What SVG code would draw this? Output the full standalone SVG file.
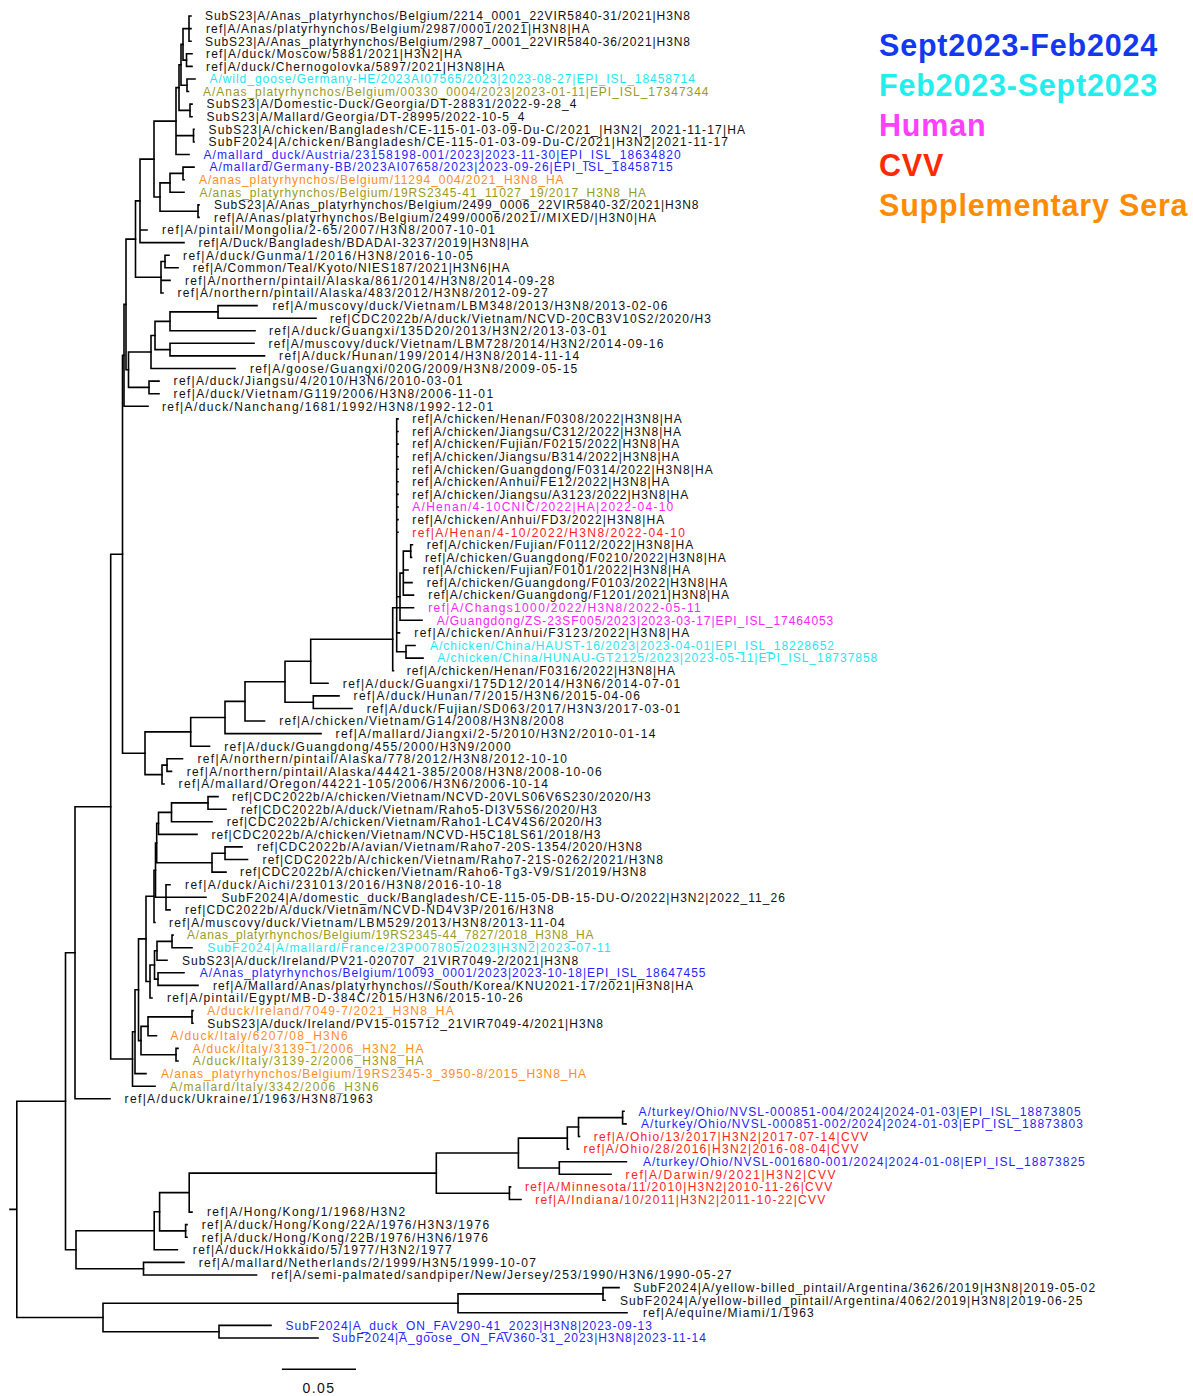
<svg xmlns="http://www.w3.org/2000/svg" width="1193" height="1396" viewBox="0 0 1193 1396">
<style>
.b{fill:none;stroke:#000;stroke-width:1.6;stroke-linecap:square}
text.l{font-family:"Liberation Sans",Arial,sans-serif;font-size:12px;fill:#111}
.blue{fill:#1f1fff !important}.cyan{fill:#1ee6f0 !important}.olive{fill:#9a9a1c !important}.orange{fill:#ff8c1e !important}.mag{fill:#ff22ff !important}.red{fill:#ff2222 !important}
.lg{font-family:"Liberation Sans",Arial,sans-serif;font-weight:bold;font-size:30.5px;letter-spacing:0.8px}
.sc{font-family:"Liberation Sans",Arial,sans-serif;font-size:14px;letter-spacing:1.5px;fill:#111}
</style>
<rect width="1193" height="1396" fill="#fff"/>
<g id="connectors" class="b">
<path d="M10,1209.4 H16.8 M16.8,1101.2 V1317.5 M16.8,1101.2 H65.5 M16.8,1317.5 H103"/>
<path d="M65.5,952.7 V1249.75 M65.5,952.7 H75 M65.5,1249.75 H76"/>
<path d="M75,806.7 V1098.7 H110 M75,806.7 H110.7"/>
<path d="M110.7,554.3 V1059 H132.5 M110.7,554.3 H122.5"/>
<path d="M122.5,355.4 V753.2 H145 M122.5,355.4 H124"/>
<path d="M124,304.4 V406.3 H148 M124,304.4 H126"/>
<path d="M126,239.1 V369.7 H128.5 M126,239.1 H135.5"/>
<path d="M135.5,200.9 V277.3 H161 M135.5,200.9 H140"/>
<path d="M140,159.1 V242.6 H184 M140,159.1 H154 M140,230 H147"/>
<path d="M154,121.1 V197 H160 M154,121.1 H176"/>
<path d="M176,87.6 V154.5 H189 M176,87.6 H179 M176,135.6 H193.5"/>
<path d="M179,64.8 V110.4 H190 M179,64.8 H181"/>
<path d="M181,44.4 V85.3 H187 M181,44.4 H183"/>
<path d="M183,28.6 V60.1 H186.5 M183,28.6 H189"/>
<path d="M189,16 V41.2 H191 M189,16 H191 M189,28.6 H191"/>
<path d="M186.5,53.8 V66.4 H192 M186.5,53.8 H192"/>
<path d="M187,79 V91.5 H188.5 M187,79 H195"/>
<path d="M190,104.1 V116.7 H192 M190,104.1 H192"/>
<path d="M193.5,129.3 V141.9 H194 M193.5,129.3 H194"/>
<path d="M160,182.9 V211.2 H198 M160,182.9 H170"/>
<path d="M170,173.4 V192.3 H184 M170,173.4 H183"/>
<path d="M183,167.1 V179.7 H184 M183,167.1 H194"/>
<path d="M198,204.9 V217.4 H199 M198,204.9 H199"/>
<path d="M161,261.5 V293 H163 M161,261.5 H165 M161,280.4 H170"/>
<path d="M165,255.2 V267.8 H178 M165,255.2 H169"/>
<path d="M128.5,352 V387.4 H149 M128.5,352 H151"/>
<path d="M151,335.5 V368.5 H235 M151,335.5 H155"/>
<path d="M155,321.4 V349.6 H170 M155,321.4 H170"/>
<path d="M170,311.9 V330.8 H255 M170,311.9 H218"/>
<path d="M218,305.6 V318.2 H316 M218,305.6 H257"/>
<path d="M170,343.3 V355.9 H264.5 M170,343.3 H254"/>
<path d="M149,381.1 V393.7 H159 M149,381.1 H159"/>
<path d="M145,731.9 V774.6 H162 M145,731.9 H190.7"/>
<path d="M190.7,717.5 V746.2 H209.5 M190.7,717.5 H225"/>
<path d="M225,701.4 V733.6 H321 M225,701.4 H245"/>
<path d="M245,681.7 V721 H264.5 M245,681.7 H285"/>
<path d="M285,661.3 V702.2 H313.3 M285,661.3 H310.7"/>
<path d="M310.7,639.2 V683.3 H328 M310.7,639.2 H392.7"/>
<path d="M313.3,695.9 V708.5 H352 M313.3,695.9 H339"/>
<path d="M392.7,607.7 V670.7 H393.5 M392.7,607.7 H396.7"/>
<path d="M396.7,418.9 V651.8 H406 M396.7,418.9 H398 M396.7,431.5 H398 M396.7,444.1 H398 M396.7,456.7 H398 M396.7,469.2 H398 M396.7,481.8 H398 M396.7,494.4 H398 M396.7,507 H398 M396.7,519.6 H398 M396.7,532.2 H398 M396.7,596.7 H400 M396.7,607.7 H413.5 M396.7,632.9 H399.5"/>
<path d="M400,573.1 V620.3 H422 M400,573.1 H403.3"/>
<path d="M403.3,551.1 V595.1 H413.5 M403.3,551.1 H410.7 M403.3,570 H408 M403.3,582.6 H412"/>
<path d="M410.7,544.8 V557.4 H411.5 M410.7,544.8 H412.5"/>
<path d="M406,645.5 V658.1 H423 M406,645.5 H415"/>
<path d="M162,765.1 V784 H164 M162,765.1 H167"/>
<path d="M167,758.8 V771.4 H171.5 M167,758.8 H182.5"/>
<path d="M132.5,1031.7 V1086.2 H155 M132.5,1031.7 H135"/>
<path d="M135,989.8 V1073.6 H146 M135,989.8 H138.5"/>
<path d="M138.5,938.9 V1040.6 H141 M138.5,938.9 H146"/>
<path d="M146,896.3 V981.5 H150 M146,896.3 H154"/>
<path d="M154,870.2 V922.5 H155 M154,870.2 H155.5"/>
<path d="M155.5,843 V897.3 H166 M155.5,843 H156.7"/>
<path d="M156.7,823.4 V862.7 H212 M156.7,823.4 H158.5"/>
<path d="M158.5,812.4 V834.4 H197 M158.5,812.4 H171.5"/>
<path d="M171.5,802.9 V821.8 H212 M171.5,802.9 H208"/>
<path d="M208,796.6 V809.2 H226 M208,796.6 H218"/>
<path d="M212,853.2 V872.1 H226 M212,853.2 H225"/>
<path d="M225,846.9 V859.5 H247.5 M225,846.9 H242"/>
<path d="M166,884.7 V909.9 H170 M166,884.7 H170 M166,897.3 H206"/>
<path d="M150,965 V998 H152 M150,965 H154.5"/>
<path d="M154.5,950.8 V979.1 H158 M154.5,950.8 H157"/>
<path d="M157,941.4 V960.3 H167 M157,941.4 H172"/>
<path d="M172,935.1 V947.7 H192 M172,935.1 H173"/>
<path d="M158,972.8 V985.4 H198 M158,972.8 H184"/>
<path d="M141,1026.4 V1054.7 H176 M141,1026.4 H148"/>
<path d="M148,1016.9 V1035.8 H156.5 M148,1016.9 H192"/>
<path d="M192,1010.6 V1023.2 H193 M192,1010.6 H193"/>
<path d="M176,1048.4 V1061 H178 M176,1048.4 H178"/>
<path d="M76,1230.8 V1268.7 H143.5 M76,1230.8 H154.2"/>
<path d="M154.2,1211.75 V1249.8 H177.4 M154.2,1211.75 H159.6"/>
<path d="M159.6,1192.6 V1230.9 H185.6 M159.6,1192.6 H189.2"/>
<path d="M189.2,1173.1 V1212.1 H192 M189.2,1173.1 H436.3"/>
<path d="M185.6,1224.6 V1237.2 H187 M185.6,1224.6 H187"/>
<path d="M436.3,1153.05 V1193.2 H509.4 M436.3,1153.05 H518.4"/>
<path d="M518.4,1138.1 V1168 H559.3 M518.4,1138.1 H567.3"/>
<path d="M567.3,1127.05 V1149.1 H568.5 M567.3,1127.05 H578.5"/>
<path d="M578.5,1117.6 V1136.5 H579.5 M578.5,1117.6 H622.6"/>
<path d="M622.6,1111.3 V1123.9 H626 M622.6,1111.3 H624"/>
<path d="M559.3,1161.7 V1174.3 H611 M559.3,1161.7 H626.4"/>
<path d="M509.4,1186.9 V1199.5 H521 M509.4,1186.9 H510.5"/>
<path d="M143.5,1262.4 V1275 H256.5 M143.5,1262.4 H184"/>
<path d="M103,1303.3 V1331.7 H219 M103,1303.3 H458"/>
<path d="M458,1293.9 V1312.8 H627 M458,1293.9 H603"/>
<path d="M603,1287.6 V1300.2 H605 M603,1287.6 H619"/>
<path d="M219,1325.4 V1338 H318 M219,1325.4 H271"/>
</g>
<g id="leaf-1"><text class="l" x="205" y="20.3" textLength="485" lengthAdjust="spacing">SubS23|A/Anas_platyrhynchos/Belgium/2214_0001_22VIR5840-31/2021|H3N8</text></g>
<g id="leaf-2"><text class="l" x="206" y="32.9" textLength="383.4" lengthAdjust="spacing">ref|A/Anas/platyrhynchos/Belgium/2987/0001/2021|H3N8|HA</text></g>
<g id="leaf-3"><text class="l" x="205" y="45.5" textLength="485" lengthAdjust="spacing">SubS23|A/Anas_platyrhynchos/Belgium/2987_0001_22VIR5840-36/2021|H3N8</text></g>
<g id="leaf-4"><text class="l" x="206" y="58.1" textLength="255.8" lengthAdjust="spacing">ref|A/duck/Moscow/5881/2021|H3N2|HA</text></g>
<g id="leaf-5"><text class="l" x="206" y="70.7" textLength="298.4" lengthAdjust="spacing">ref|A/duck/Chernogolovka/5897/2021|H3N8|HA</text></g>
<g id="leaf-6"><text class="l cyan" x="209.5" y="83.3" textLength="485.4" lengthAdjust="spacing">A/wild_goose/Germany-HE/2023AI07565/2023|2023-08-27|EPI_ISL_18458714</text></g>
<g id="leaf-7"><text class="l olive" x="203" y="95.8" textLength="505.5" lengthAdjust="spacing">A/Anas_platyrhynchos/Belgium/00330_0004/2023|2023-01-11|EPI_ISL_17347344</text></g>
<g id="leaf-8"><text class="l" x="206.5" y="108.4" textLength="370" lengthAdjust="spacing">SubS23|A/Domestic-Duck/Georgia/DT-28831/2022-9-28_4</text></g>
<g id="leaf-9"><text class="l" x="206.5" y="121" textLength="318" lengthAdjust="spacing">SubS23|A/Mallard/Georgia/DT-28995/2022-10-5_4</text></g>
<g id="leaf-10"><text class="l" x="208.5" y="133.6" textLength="536.5" lengthAdjust="spacing">SubS23|A/chicken/Bangladesh/CE-115-01-03-09-Du-C/2021_|H3N2|_2021-11-17|HA</text></g>
<g id="leaf-11"><text class="l" x="208.5" y="146.2" textLength="519.5" lengthAdjust="spacing">SubF2024|A/chicken/Bangladesh/CE-115-01-03-09-Du-C/2021|H3N2|2021-11-17</text></g>
<g id="leaf-12"><text class="l blue" x="203.5" y="158.8" textLength="477.3" lengthAdjust="spacing">A/mallard_duck/Austria/23158198-001/2023|2023-11-30|EPI_ISL_18634820</text></g>
<g id="leaf-13"><text class="l blue" x="209.5" y="171.4" textLength="463.2" lengthAdjust="spacing">A/mallard/Germany-BB/2023AI07658/2023|2023-09-26|EPI_ISL_18458715</text></g>
<g id="leaf-14"><text class="l orange" x="199" y="184" textLength="364.5" lengthAdjust="spacing">A/anas_platyrhynchos/Belgium/11294_004/2021_H3N8_HA</text></g>
<g id="leaf-15"><text class="l olive" x="199.5" y="196.6" textLength="446.5" lengthAdjust="spacing">A/anas_platyrhynchos/Belgium/19RS2345-41_11027_19/2017_H3N8_HA</text></g>
<g id="leaf-16"><text class="l" x="214" y="209.2" textLength="484.5" lengthAdjust="spacing">SubS23|A/Anas_platyrhynchos/Belgium/2499_0006_22VIR5840-32/2021|H3N8</text></g>
<g id="leaf-17"><text class="l" x="214" y="221.7" textLength="442" lengthAdjust="spacing">ref|A/Anas/platyrhynchos/Belgium/2499/0006/2021//MIXED/|H3N0|HA</text></g>
<g id="leaf-18"><text class="l" x="162" y="234.3" textLength="333" lengthAdjust="spacing">ref|A/pintail/Mongolia/2-65/2007/H3N8/2007-10-01</text></g>
<g id="leaf-19"><text class="l" x="198.5" y="246.9" textLength="330" lengthAdjust="spacing">ref|A/Duck/Bangladesh/BDADAI-3237/2019|H3N8|HA</text></g>
<g id="leaf-20"><text class="l" x="183" y="259.5" textLength="290" lengthAdjust="spacing">ref|A/duck/Gunma/1/2016/H3N8/2016-10-05</text></g>
<g id="leaf-21"><text class="l" x="192.8" y="272.1" textLength="316.8" lengthAdjust="spacing">ref|A/Common/Teal/Kyoto/NIES187/2021|H3N6|HA</text></g>
<g id="leaf-22"><text class="l" x="185" y="284.7" textLength="369.4" lengthAdjust="spacing">ref|A/northern/pintail/Alaska/861/2014/H3N8/2014-09-28</text></g>
<g id="leaf-23"><text class="l" x="177.5" y="297.3" textLength="370.4" lengthAdjust="spacing">ref|A/northern/pintail/Alaska/483/2012/H3N8/2012-09-27</text></g>
<g id="leaf-24"><text class="l" x="272.4" y="309.9" textLength="395" lengthAdjust="spacing">ref|A/muscovy/duck/Vietnam/LBM348/2013/H3N8/2013-02-06</text></g>
<g id="leaf-25"><text class="l" x="330" y="322.5" textLength="381" lengthAdjust="spacing">ref|CDC2022b/A/duck/Vietnam/NCVD-20CB3V10S2/2020/H3</text></g>
<g id="leaf-26"><text class="l" x="269" y="335.1" textLength="337.8" lengthAdjust="spacing">ref|A/duck/Guangxi/135D20/2013/H3N2/2013-03-01</text></g>
<g id="leaf-27"><text class="l" x="268.6" y="347.6" textLength="394.8" lengthAdjust="spacing">ref|A/muscovy/duck/Vietnam/LBM728/2014/H3N2/2014-09-16</text></g>
<g id="leaf-28"><text class="l" x="279" y="360.2" textLength="300.2" lengthAdjust="spacing">ref|A/duck/Hunan/199/2014/H3N8/2014-11-14</text></g>
<g id="leaf-29"><text class="l" x="250" y="372.8" textLength="327.3" lengthAdjust="spacing">ref|A/goose/Guangxi/020G/2009/H3N8/2009-05-15</text></g>
<g id="leaf-30"><text class="l" x="173.6" y="385.4" textLength="288.9" lengthAdjust="spacing">ref|A/duck/Jiangsu/4/2010/H3N6/2010-03-01</text></g>
<g id="leaf-31"><text class="l" x="173.6" y="398" textLength="319.5" lengthAdjust="spacing">ref|A/duck/Vietnam/G119/2006/H3N8/2006-11-01</text></g>
<g id="leaf-32"><text class="l" x="162" y="410.6" textLength="331.1" lengthAdjust="spacing">ref|A/duck/Nanchang/1681/1992/H3N8/1992-12-01</text></g>
<g id="leaf-33"><text class="l" x="412.3" y="423.2" textLength="269.4" lengthAdjust="spacing">ref|A/chicken/Henan/F0308/2022|H3N8|HA</text></g>
<g id="leaf-34"><text class="l" x="412.3" y="435.8" textLength="268.7" lengthAdjust="spacing">ref|A/chicken/Jiangsu/C312/2022|H3N8|HA</text></g>
<g id="leaf-35"><text class="l" x="412.3" y="448.4" textLength="267" lengthAdjust="spacing">ref|A/chicken/Fujian/F0215/2022|H3N8|HA</text></g>
<g id="leaf-36"><text class="l" x="412.3" y="461" textLength="267" lengthAdjust="spacing">ref|A/chicken/Jiangsu/B314/2022|H3N8|HA</text></g>
<g id="leaf-37"><text class="l" x="412.3" y="473.5" textLength="300.4" lengthAdjust="spacing">ref|A/chicken/Guangdong/F0314/2022|H3N8|HA</text></g>
<g id="leaf-38"><text class="l" x="412.3" y="486.1" textLength="257" lengthAdjust="spacing">ref|A/chicken/Anhui/FE12/2022|H3N8|HA</text></g>
<g id="leaf-39"><text class="l" x="412.3" y="498.7" textLength="276" lengthAdjust="spacing">ref|A/chicken/Jiangsu/A3123/2022|H3N8|HA</text></g>
<g id="leaf-40"><text class="l mag" x="412.3" y="511.3" textLength="261" lengthAdjust="spacing">A/Henan/4-10CNIC/2022|HA|2022-04-10</text></g>
<g id="leaf-41"><text class="l" x="412.3" y="523.9" textLength="252" lengthAdjust="spacing">ref|A/chicken/Anhui/FD3/2022|H3N8|HA</text></g>
<g id="leaf-42"><text class="l red" x="412.3" y="536.5" textLength="272.7" lengthAdjust="spacing">ref|A/Henan/4-10/2022/H3N8/2022-04-10</text></g>
<g id="leaf-43"><text class="l" x="426.7" y="549.1" textLength="266.6" lengthAdjust="spacing">ref|A/chicken/Fujian/F0112/2022|H3N8|HA</text></g>
<g id="leaf-44"><text class="l" x="425" y="561.7" textLength="300.7" lengthAdjust="spacing">ref|A/chicken/Guangdong/F0210/2022|H3N8|HA</text></g>
<g id="leaf-45"><text class="l" x="422.7" y="574.3" textLength="267.3" lengthAdjust="spacing">ref|A/chicken/Fujian/F0101/2022|H3N8|HA</text></g>
<g id="leaf-46"><text class="l" x="426.7" y="586.9" textLength="300.6" lengthAdjust="spacing">ref|A/chicken/Guangdong/F0103/2022|H3N8|HA</text></g>
<g id="leaf-47"><text class="l" x="428.3" y="599.4" textLength="300.7" lengthAdjust="spacing">ref|A/chicken/Guangdong/F1201/2021|H3N8|HA</text></g>
<g id="leaf-48"><text class="l mag" x="428.3" y="612" textLength="272.4" lengthAdjust="spacing">ref|A/Changs1000/2022/H3N8/2022-05-11</text></g>
<g id="leaf-49"><text class="l mag" x="436.7" y="624.6" textLength="396.6" lengthAdjust="spacing">A/Guangdong/ZS-23SF005/2023|2023-03-17|EPI_ISL_17464053</text></g>
<g id="leaf-50"><text class="l" x="414.3" y="637.2" textLength="275" lengthAdjust="spacing">ref|A/chicken/Anhui/F3123/2022|H3N8|HA</text></g>
<g id="leaf-51"><text class="l cyan" x="430" y="649.8" textLength="404" lengthAdjust="spacing">A/chicken/China/HAUST-16/2023|2023-04-01|EPI_ISL_18228652</text></g>
<g id="leaf-52"><text class="l cyan" x="437.3" y="662.4" textLength="440" lengthAdjust="spacing">A/chicken/China/HUNAU-GT2125/2023|2023-05-11|EPI_ISL_18737858</text></g>
<g id="leaf-53"><text class="l" x="406.7" y="675" textLength="268.3" lengthAdjust="spacing">ref|A/chicken/Henan/F0316/2022|H3N8|HA</text></g>
<g id="leaf-54"><text class="l" x="342.8" y="687.6" textLength="337.4" lengthAdjust="spacing">ref|A/duck/Guangxi/175D12/2014/H3N6/2014-07-01</text></g>
<g id="leaf-55"><text class="l" x="353.5" y="700.2" textLength="286.5" lengthAdjust="spacing">ref|A/duck/Hunan/7/2015/H3N6/2015-04-06</text></g>
<g id="leaf-56"><text class="l" x="366.7" y="712.8" textLength="313.5" lengthAdjust="spacing">ref|A/duck/Fujian/SD063/2017/H3N3/2017-03-01</text></g>
<g id="leaf-57"><text class="l" x="279.3" y="725.3" textLength="284.3" lengthAdjust="spacing">ref|A/chicken/Vietnam/G14/2008/H3N8/2008</text></g>
<g id="leaf-58"><text class="l" x="335.6" y="737.9" textLength="319.8" lengthAdjust="spacing">ref|A/mallard/Jiangxi/2-5/2010/H3N2/2010-01-14</text></g>
<g id="leaf-59"><text class="l" x="224.3" y="750.5" textLength="286.4" lengthAdjust="spacing">ref|A/duck/Guangdong/455/2000/H3N9/2000</text></g>
<g id="leaf-60"><text class="l" x="197.5" y="763.1" textLength="369.5" lengthAdjust="spacing">ref|A/northern/pintail/Alaska/778/2012/H3N8/2012-10-10</text></g>
<g id="leaf-61"><text class="l" x="186.8" y="775.7" textLength="414.8" lengthAdjust="spacing">ref|A/northern/pintail/Alaska/44421-385/2008/H3N8/2008-10-06</text></g>
<g id="leaf-62"><text class="l" x="178.6" y="788.3" textLength="369.4" lengthAdjust="spacing">ref|A/mallard/Oregon/44221-105/2006/H3N6/2006-10-14</text></g>
<g id="leaf-63"><text class="l" x="232" y="800.9" textLength="418.6" lengthAdjust="spacing">ref|CDC2022b/A/chicken/Vietnam/NCVD-20VLS06V6S230/2020/H3</text></g>
<g id="leaf-64"><text class="l" x="241" y="813.5" textLength="356" lengthAdjust="spacing">ref|CDC2022b/A/duck/Vietnam/Raho5-DI3V5S6/2020/H3</text></g>
<g id="leaf-65"><text class="l" x="226.8" y="826.1" textLength="374.8" lengthAdjust="spacing">ref|CDC2022b/A/chicken/Vietnam/Raho1-LC4V4S6/2020/H3</text></g>
<g id="leaf-66"><text class="l" x="211.4" y="838.7" textLength="389.1" lengthAdjust="spacing">ref|CDC2022b/A/chicken/Vietnam/NCVD-H5C18LS61/2018/H3</text></g>
<g id="leaf-67"><text class="l" x="257" y="851.2" textLength="385" lengthAdjust="spacing">ref|CDC2022b/A/avian/Vietnam/Raho7-20S-1354/2020/H3N8</text></g>
<g id="leaf-68"><text class="l" x="262.5" y="863.8" textLength="400.5" lengthAdjust="spacing">ref|CDC2022b/A/chicken/Vietnam/Raho7-21S-0262/2021/H3N8</text></g>
<g id="leaf-69"><text class="l" x="240" y="876.4" textLength="406.3" lengthAdjust="spacing">ref|CDC2022b/A/chicken/Vietnam/Raho6-Tg3-V9/S1/2019/H3N8</text></g>
<g id="leaf-70"><text class="l" x="185" y="889" textLength="316.5" lengthAdjust="spacing">ref|A/duck/Aichi/231013/2016/H3N8/2016-10-18</text></g>
<g id="leaf-71"><text class="l" x="221.5" y="901.6" textLength="563.5" lengthAdjust="spacing">SubF2024|A/domestic_duck/Bangladesh/CE-115-05-DB-15-DU-O/2022|H3N2|2022_11_26</text></g>
<g id="leaf-72"><text class="l" x="185" y="914.2" textLength="368.6" lengthAdjust="spacing">ref|CDC2022b/A/duck/Vietnam/NCVD-ND4V3P/2016/H3N8</text></g>
<g id="leaf-73"><text class="l" x="169" y="926.8" textLength="395.7" lengthAdjust="spacing">ref|A/muscovy/duck/Vietnam/LBM529/2013/H3N8/2013-11-04</text></g>
<g id="leaf-74"><text class="l olive" x="187" y="939.4" textLength="406.4" lengthAdjust="spacing">A/anas_platyrhynchos/Belgium/19RS2345-44_7827/2018_H3N8_HA</text></g>
<g id="leaf-75"><text class="l cyan" x="207.3" y="952" textLength="403.3" lengthAdjust="spacing">SubF2024|A/mallard/France/23P007805/2023|H3N2|2023-07-11</text></g>
<g id="leaf-76"><text class="l" x="182" y="964.6" textLength="396.1" lengthAdjust="spacing">SubS23|A/duck/Ireland/PV21-020707_21VIR7049-2/2021|H3N8</text></g>
<g id="leaf-77"><text class="l blue" x="199.7" y="977.1" textLength="505.8" lengthAdjust="spacing">A/Anas_platyrhynchos/Belgium/10093_0001/2023|2023-10-18|EPI_ISL_18647455</text></g>
<g id="leaf-78"><text class="l" x="213" y="989.7" textLength="479.9" lengthAdjust="spacing">ref|A/Mallard/Anas/platyrhynchos//South/Korea/KNU2021-17/2021|H3N8|HA</text></g>
<g id="leaf-79"><text class="l" x="167" y="1002.3" textLength="355.6" lengthAdjust="spacing">ref|A/pintail/Egypt/MB-D-384C/2015/H3N6/2015-10-26</text></g>
<g id="leaf-80"><text class="l orange" x="207.3" y="1014.9" textLength="246.4" lengthAdjust="spacing">A/duck/Ireland/7049-7/2021_H3N8_HA</text></g>
<g id="leaf-81"><text class="l" x="207.3" y="1027.5" textLength="395.7" lengthAdjust="spacing">SubS23|A/duck/Ireland/PV15-015712_21VIR7049-4/2021|H3N8</text></g>
<g id="leaf-82"><text class="l orange" x="170.6" y="1040.1" textLength="177.1" lengthAdjust="spacing">A/duck/Italy/6207/08_H3N6</text></g>
<g id="leaf-83"><text class="l orange" x="192.8" y="1052.7" textLength="230.7" lengthAdjust="spacing">A/duck/Italy/3139-1/2006_H3N2_HA</text></g>
<g id="leaf-84"><text class="l olive" x="192.8" y="1065.3" textLength="230.7" lengthAdjust="spacing">A/duck/Italy/3139-2/2006_H3N8_HA</text></g>
<g id="leaf-85"><text class="l orange" x="161" y="1077.9" textLength="425.1" lengthAdjust="spacing">A/anas_platyrhynchos/Belgium/19RS2345-3_3950-8/2015_H3N8_HA</text></g>
<g id="leaf-86"><text class="l olive" x="169.8" y="1090.5" textLength="208.9" lengthAdjust="spacing">A/mallard/Italy/3342/2006_H3N6</text></g>
<g id="leaf-87"><text class="l" x="124.6" y="1103" textLength="248.2" lengthAdjust="spacing">ref|A/duck/Ukraine/1/1963/H3N8/1963</text></g>
<g id="leaf-88"><text class="l blue" x="638.6" y="1115.6" textLength="442" lengthAdjust="spacing">A/turkey/Ohio/NVSL-000851-004/2024|2024-01-03|EPI_ISL_18873805</text></g>
<g id="leaf-89"><text class="l blue" x="641" y="1128.2" textLength="441.9" lengthAdjust="spacing">A/turkey/Ohio/NVSL-000851-002/2024|2024-01-03|EPI_ISL_18873803</text></g>
<g id="leaf-90"><text class="l red" x="593.8" y="1140.8" textLength="274.4" lengthAdjust="spacing">ref|A/Ohio/13/2017|H3N2|2017-07-14|CVV</text></g>
<g id="leaf-91"><text class="l red" x="583.5" y="1153.4" textLength="275.1" lengthAdjust="spacing">ref|A/Ohio/28/2016|H3N2|2016-08-04|CVV</text></g>
<g id="leaf-92"><text class="l blue" x="642.9" y="1166" textLength="441.9" lengthAdjust="spacing">A/turkey/Ohio/NVSL-001680-001/2024|2024-01-08|EPI_ISL_18873825</text></g>
<g id="leaf-93"><text class="l red" x="625.6" y="1178.6" textLength="210" lengthAdjust="spacing">ref|A/Darwin/9/2021|H3N2|CVV</text></g>
<g id="leaf-94"><text class="l red" x="524.9" y="1191.2" textLength="307.3" lengthAdjust="spacing">ref|A/Minnesota/11/2010|H3N2|2010-11-26|CVV</text></g>
<g id="leaf-95"><text class="l red" x="535.2" y="1203.8" textLength="290.1" lengthAdjust="spacing">ref|A/Indiana/10/2011|H3N2|2011-10-22|CVV</text></g>
<g id="leaf-96"><text class="l" x="207" y="1216.4" textLength="198.2" lengthAdjust="spacing">ref|A/Hong/Kong/1/1968/H3N2</text></g>
<g id="leaf-97"><text class="l" x="201.7" y="1228.9" textLength="287.4" lengthAdjust="spacing">ref|A/duck/Hong/Kong/22A/1976/H3N3/1976</text></g>
<g id="leaf-98"><text class="l" x="201.7" y="1241.5" textLength="286.3" lengthAdjust="spacing">ref|A/duck/Hong/Kong/22B/1976/H3N6/1976</text></g>
<g id="leaf-99"><text class="l" x="192.8" y="1254.1" textLength="258.8" lengthAdjust="spacing">ref|A/duck/Hokkaido/5/1977/H3N2/1977</text></g>
<g id="leaf-100"><text class="l" x="198.8" y="1266.7" textLength="337.2" lengthAdjust="spacing">ref|A/mallard/Netherlands/2/1999/H3N5/1999-10-07</text></g>
<g id="leaf-101"><text class="l" x="271.3" y="1279.3" textLength="460.2" lengthAdjust="spacing">ref|A/semi-palmated/sandpiper/New/Jersey/253/1990/H3N6/1990-05-27</text></g>
<g id="leaf-102"><text class="l" x="633.3" y="1291.9" textLength="461.8" lengthAdjust="spacing">SubF2024|A/yellow-billed_pintail/Argentina/3626/2019|H3N8|2019-05-02</text></g>
<g id="leaf-103"><text class="l" x="619.9" y="1304.5" textLength="462.6" lengthAdjust="spacing">SubF2024|A/yellow-billed_pintail/Argentina/4062/2019|H3N8|2019-06-25</text></g>
<g id="leaf-104"><text class="l" x="642.9" y="1317.1" textLength="170.9" lengthAdjust="spacing">ref|A/equine/Miami/1/1963</text></g>
<g id="leaf-105"><text class="l blue" x="285.6" y="1329.7" textLength="366.3" lengthAdjust="spacing">SubF2024|A_duck_ON_FAV290-41_2023|H3N8|2023-09-13</text></g>
<g id="leaf-106"><text class="l blue" x="332" y="1342.3" textLength="373.9" lengthAdjust="spacing">SubF2024|A_goose_ON_FAV360-31_2023|H3N8|2023-11-14</text></g>
<g id="legend">
<text class="lg" x="879" y="56" fill="#1238f0">Sept2023-Feb2024</text>
<text class="lg" x="879" y="96" fill="#22eeee">Feb2023-Sept2023</text>
<text class="lg" x="879" y="136" fill="#ff40ff">Human</text>
<text class="lg" x="879" y="176" fill="#ff2a00">CVV</text>
<text class="lg" x="879" y="216" fill="#ff8c00">Supplementary Sera</text>
</g>
<g id="scale-bar">
<path class="b" d="M282.7,1369.3 H355.2"/>
<text class="sc" x="319" y="1392.5" text-anchor="middle">0.05</text>
</g>
</svg>
